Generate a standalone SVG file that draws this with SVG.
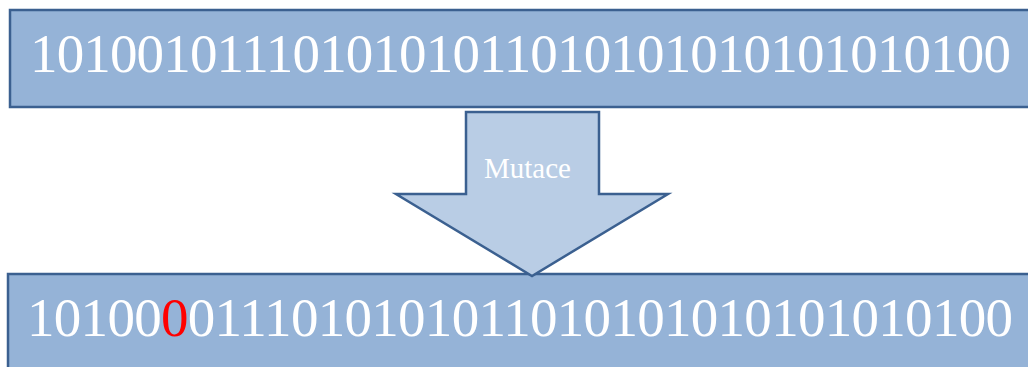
<svg xmlns="http://www.w3.org/2000/svg" width="1028" height="367" viewBox="0 0 1028 367">
  <style>
    .box { fill: #95b3d7; stroke: #3b6090; stroke-width: 2.5; }
    .arrow { fill: #b9cde5; stroke: #3b6090; stroke-width: 2.5; stroke-linejoin: miter; }
    .bits { font-family: "Liberation Serif", "Times New Roman", serif; font-size: 55px; fill: #ffffff; }
    .label { font-family: "Liberation Serif", "Times New Roman", serif; font-size: 29px; fill: #ffffff; }
    .mut { fill: #ff0000; }
  </style>
  <rect x="0" y="0" width="1028" height="367" fill="#ffffff"/>
  <g id="chromosome-before">
    <rect class="box" x="10" y="10" width="1030" height="97"/>
    <text class="bits" x="30" y="72" textLength="981" lengthAdjust="spacing">1010010111010101011010101010101010100</text>
  </g>
  <g id="chromosome-after">
    <rect class="box" x="8" y="274" width="1032" height="110"/>
    <text class="bits" x="27" y="336" textLength="986" lengthAdjust="spacing">10100<tspan class="mut">0</tspan>0111010101011010101010101010100</text>
  </g>
  <g id="connectors">
    <g id="mutace-arrow">
      <polygon class="arrow" points="466,112 599,112 599,194 668,194 532,276 396,194 466,194"/>
      <text class="label" x="484" y="178">Mutace</text>
    </g>
  </g>
</svg>
